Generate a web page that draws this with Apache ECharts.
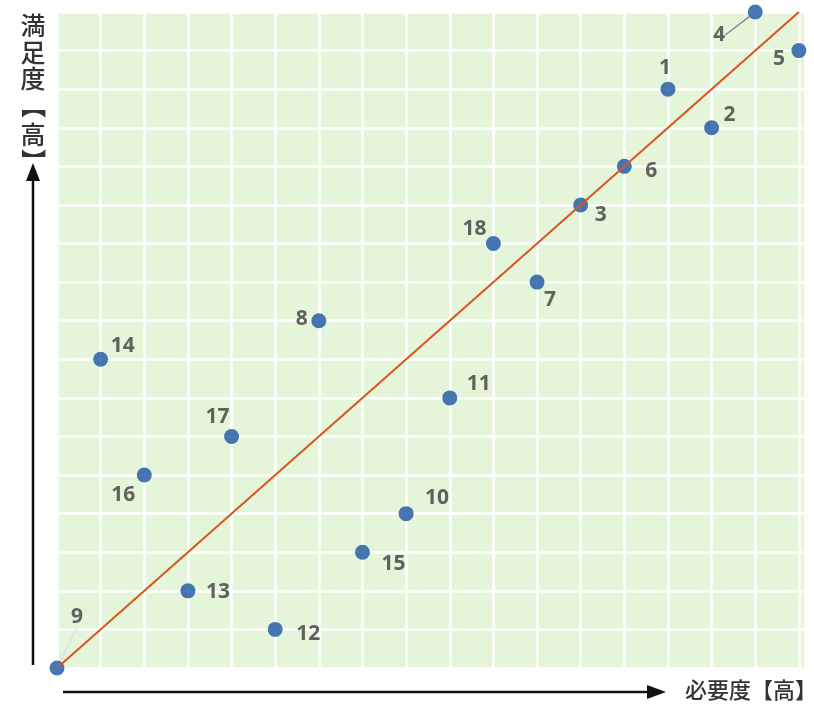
<!DOCTYPE html>
<html>
<head>
<meta charset="utf-8">
<script src="https://cdn.jsdelivr.net/npm/echarts@6/dist/echarts.min.js"></script>
<style>
html,body{margin:0;padding:0;background:#fff;}
#main{width:814px;height:708px;}
</style>
</head>
<body>
<div id="main"></div>
<script>
// Item numbers
const itemIds = ['1','2','3','4','5','6','7','8','9','10','11','12','13','14','15','16','17','18'];
// 必要度 (x) rank
const necessity = [14,15,12,16,17,13,11,6,0,8,9,5,3,1,7,2,4,10];
// 満足度 (y) rank
const satisfaction = [15,14,12,17,16,13,10,9,0,4,7,1,2,8,3,5,6,11];
// diagonal reference line
const diagLine = [[0,0],[17,17]];
const xLabel = '必要度【高】';
const yLabelChars = ['満','足','度','【','高','】'];

// label placement (style only)
const labelShift = {
  '1':[-3,-21],'2':[18,-13],'3':[20,10],'4':[-36,23],'5':[-20,8],'6':[27,5],
  '7':[13,18],'8':[-17,-2],'9':[20,-51],'10':[31,-16],'11':[29,-14],'12':[33,5],
  '13':[30,1],'14':[22,-13],'15':[31,12],'16':[-21,20],'17':[-14,-19],'18':[-19,-15]
};
const leaderIds = {'4':true,'9':true};

const points = itemIds.map((id,i)=>({
  name:id,
  value:[necessity[i],satisfaction[i]],
  labelLine:{show:!!leaderIds[id], lineStyle:{color: id==='4' ? '#8a8a8a' : '#d8e0e8', width:1.5}}
}));

const chart = echarts.init(document.getElementById('main'));
const yTexts = [];
const yPos = [25, 52, 78, 106, 134, 161];
yLabelChars.forEach((c,i)=>{
  const isBr = (c==='【' || c==='】');
  yTexts.push({type:'text', x:33, y:yPos[i], z:10,
    rotation: isBr ? -Math.PI/2 : 0,
    style:{text:c, font:'500 25px "Noto Sans CJK JP"', fill:'#333', align:'center', verticalAlign:'middle'}});
});

chart.setOption({
  animation:false,
  grid:{left:57, top:12, width:748, height:656, show:true, backgroundColor:'#e5f5d9', borderWidth:0},
  xAxis:{type:'value', min:0, max:17.14, interval:1,
    axisLine:{show:false}, axisTick:{show:false}, axisLabel:{show:false},
    splitLine:{show:true, lineStyle:{color:'#ffffff', width:2.5}}},
  yAxis:{type:'value', min:0, max:17, interval:1,
    axisLine:{show:false}, axisTick:{show:false}, axisLabel:{show:false},
    splitLine:{show:true, lineStyle:{color:'#ffffff', width:2.5}}},
  series:[
    {type:'scatter', data:points, symbolSize:15, z:3,
      itemStyle:{color:'#1a54a2'},
      label:{show:true, position:'inside', formatter:'{b}',
        fontFamily:'"Open Sans", sans-serif', fontWeight:'bold', fontSize:21, color:'#3c3c3c'},
      labelLayout:function(p){
        const s = labelShift[itemIds[p.dataIndex]];
        return {dx:s[0], dy:s[1]};
      }
    },
    {type:'line', data:diagLine, symbol:'none', z:4,
      lineStyle:{color:'#d9541e', width:2}}
  ],
  graphic:[
    // x arrow
    {type:'line', z:10, shape:{x1:63,y1:692,x2:650,y2:692}, style:{stroke:'#111', lineWidth:2.5}},
    {type:'polygon', z:10, shape:{points:[[647,685],[666,692],[647,699]]}, style:{fill:'#111'}},
    {type:'text', left:685, top:679, z:10, style:{text:xLabel, font:'500 22px "Noto Sans CJK JP"', fill:'#333'}},
    // y arrow
    {type:'line', z:10, shape:{x1:33,y1:665,x2:33,y2:178}, style:{stroke:'#111', lineWidth:2.5}},
    {type:'polygon', z:10, shape:{points:[[26,181],[33,163],[40,181]]}, style:{fill:'#111'}}
  ].concat(yTexts)
});
</script>
</body>
</html>
